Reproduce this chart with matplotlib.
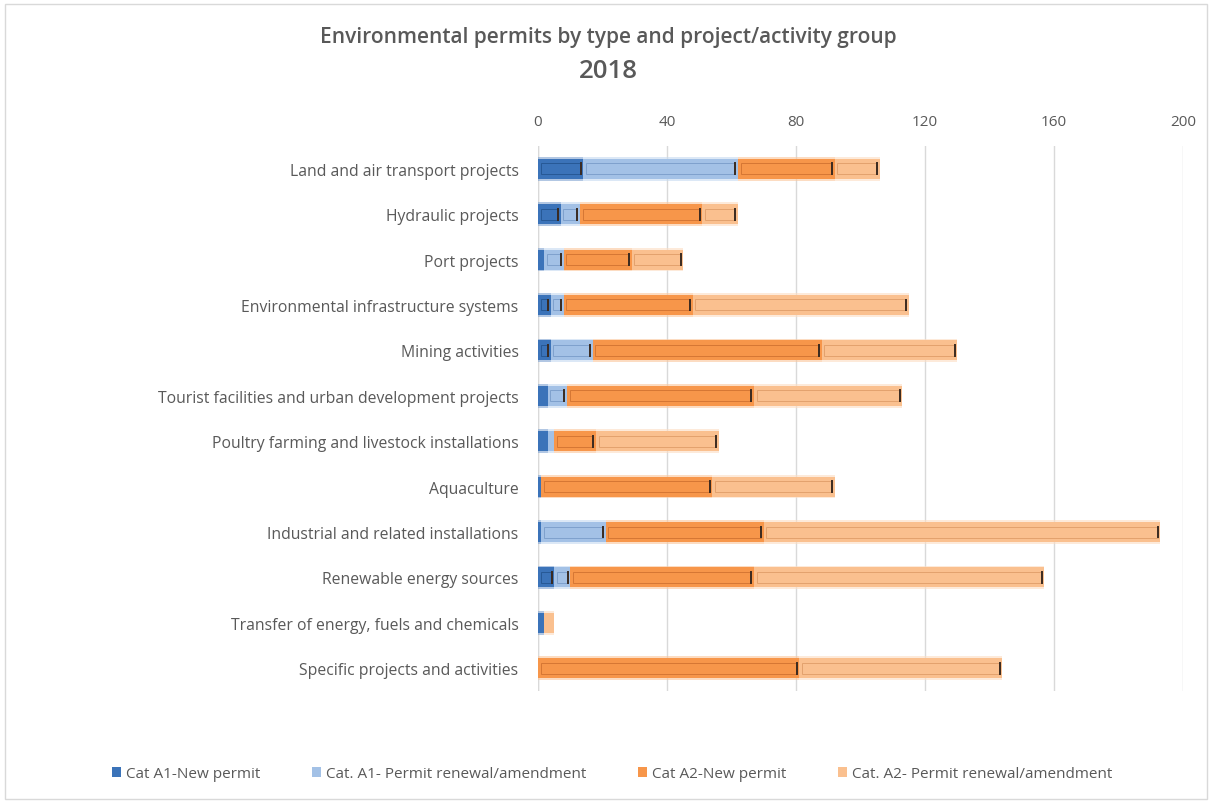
import matplotlib
matplotlib.use("Agg")
import matplotlib.pyplot as plt
from matplotlib.patches import Rectangle
import numpy as np

plt.rcParams['font.family'] = ['Open Sans', 'DejaVu Sans']

categories = [
    "Land and air transport projects",
    "Hydraulic projects",
    "Port projects",
    "Environmental infrastructure systems",
    "Mining activities",
    "Tourist facilities and urban development projects",
    "Poultry farming and livestock installations",
    "Aquaculture",
    "Industrial and related installations",
    "Renewable energy sources",
    "Transfer of energy, fuels and chemicals",
    "Specific projects and activities",
]

a1_new = [14, 7, 2, 4, 4, 3, 3, 1, 1, 5, 2, 0]
a1_renewal = [48, 6, 6, 4, 13, 6, 2, 0, 20, 5, 0, 0]
a2_new = [30, 38, 21, 40, 71, 58, 13, 53, 49, 57, 0, 81]
a2_renewal = [14, 11, 16, 67, 42, 46, 38, 38, 123, 90, 3, 63]

series_names = [
    "Cat A1-New permit",
    "Cat. A1- Permit renewal/amendment",
    "Cat A2-New permit",
    "Cat. A2- Permit renewal/amendment",
]
series_values = [a1_new, a1_renewal, a2_new, a2_renewal]
fill_colors = ["#3B73B9", "#A3C1E6", "#F7964A", "#FAC08F"]
edge_colors = ["#1F4E86", "#6F93C2", "#C7692A", "#D9955F"]
glow_colors = ["#7FA3D1", "#C6D9F0", "#FBC59A", "#FDDDC2"]

fig = plt.figure(figsize=(12.10, 8.03), dpi=100)
ax = fig.add_axes([538 / 1210, 1 - 692 / 803, (1183 - 538) / 1210, (692 - 147) / 803])

y = np.arange(len(categories))
left = np.zeros(len(categories))
bar_h = 0.44
for vals, fc, ec, gc in zip(series_values, fill_colors, edge_colors, glow_colors):
    vals = np.asarray(vals, dtype=float)
    # soft halo behind each segment
    ax.barh(y, vals, left=left, height=bar_h + 0.08, color=gc, alpha=0.6,
            linewidth=0, zorder=2)
    ax.barh(y, vals, left=left, height=bar_h, color=fc, linewidth=0, zorder=3)
    # inner outline with a darker closing edge
    inner = np.maximum(vals - 1.6, 0)
    mask = vals > 3.5
    ax.barh(y[mask], inner[mask], left=left[mask] + 0.8, height=bar_h * 0.55,
            facecolor="none", edgecolor=ec, linewidth=0.7, alpha=0.7, zorder=4)
    for yi, l, v in zip(y[mask], left[mask], vals[mask]):
        ax.plot([l + v - 0.8, l + v - 0.8], [yi - bar_h * 0.27, yi + bar_h * 0.27],
                color="#3a2a20", linewidth=1.4, zorder=5)
    left = left + vals

ax.set_xlim(0, 200)
ax.set_ylim(len(categories) - 0.5, -0.5)
ax.set_xticks(np.arange(0, 201, 40))
ax.xaxis.tick_top()
ax.tick_params(axis='x', length=0, pad=12, labelsize=11, labelcolor="#595959")
ax.set_yticks(y)
ax.set_yticklabels(categories)
ax.tick_params(axis='y', length=0, pad=14, labelsize=11.3, labelcolor="#595959")
ax.grid(axis='x', color="#D9D9D9", linewidth=1.0, zorder=0)
ax.set_axisbelow(True)
for s in ax.spines.values():
    s.set_visible(False)
ax.axvline(0, color="#D9D9D9", linewidth=1.0, zorder=1)

fig.text(0.5025, 1 - 38 / 803, "Environmental permits by type and project/activity group",
         ha="center", va="center", fontsize=15, fontweight="semibold", color="#595959")
fig.text(0.5025, 1 - 71 / 803, "2018", ha="center", va="center", fontsize=18.5,
         fontweight="semibold", color="#595959")

handles = [Rectangle((0, 0), 1, 1, facecolor=c, edgecolor="none") for c in fill_colors]
fig.legend(handles, series_names, loc="center", bbox_to_anchor=(0.506, 1 - 775 / 803),
           ncol=4, frameon=False, fontsize=11, labelcolor="#595959",
           handlelength=0.6, handleheight=0.6, handletextpad=0.3, columnspacing=3.4)

fig.patches.append(Rectangle((5 / 1210, 3 / 803), 1202 / 1210, 795 / 803,
                             transform=fig.transFigure, fill=False,
                             edgecolor="#D9D9D9", linewidth=1.0))

fig.savefig("out.png", dpi=100, facecolor="white")
